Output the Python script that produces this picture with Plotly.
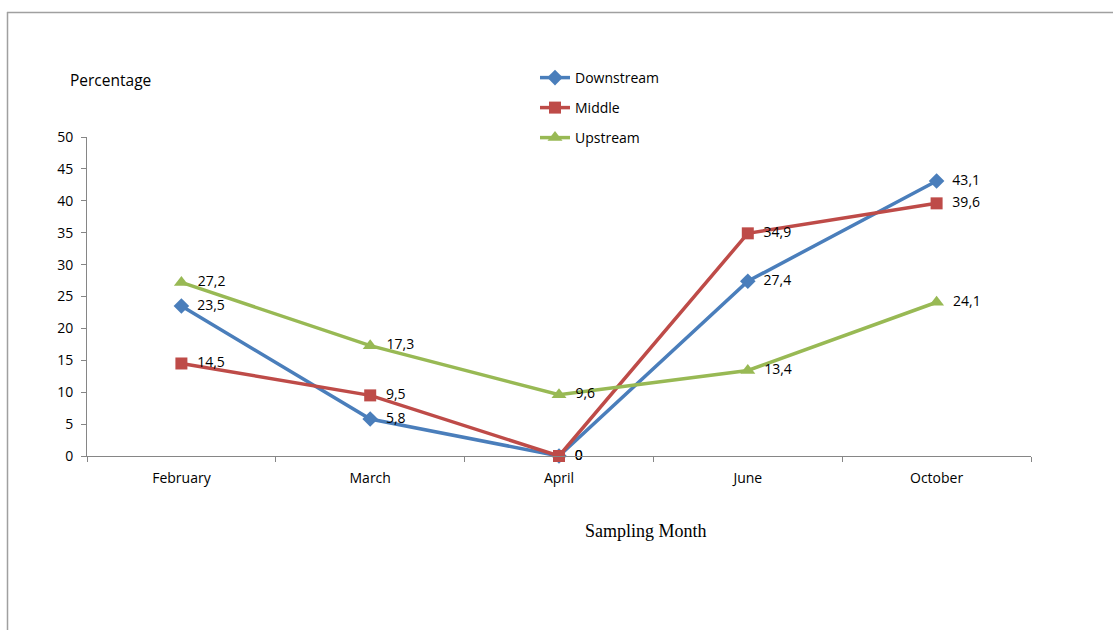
import plotly.graph_objects as go

months = ["February", "March", "April", "June", "October"]
downstream = [23.5, 5.8, 0, 27.4, 43.1]
middle = [14.5, 9.5, 0, 34.9, 39.6]
upstream = [27.2, 17.3, 9.6, 13.4, 24.1]
y_ticks = [0, 5, 10, 15, 20, 25, 30, 35, 40, 45, 50]

FONT = "Open Sans"
W, H = 1113, 630
L, R, T, B = 87, 82, 137, 174
PW, PH = W - L - R, H - T - B


def px(x):
    return (x - L) / PW


def py(y):
    return (H - B - y) / PH


def lab(vals):
    return ["  " + (f"{v:g}".replace(".", ",")) for v in vals]


fig = go.Figure()
series = [
    ("Downstream", downstream, "#4A7EBB", "diamond", 12, "legend"),
    ("Middle", middle, "#BE4B48", "square", 12, "legend2"),
    ("Upstream", upstream, "#98B954", "triangle-up", 13, "legend3"),
]
for name, vals, col, sym, sz, lg in series:
    fig.add_trace(go.Scatter(
        x=months, y=vals, name=name, mode="lines+markers+text",
        line=dict(color=col, width=3.5),
        marker=dict(symbol=sym, size=sz, color=col),
        text=lab(vals), textposition="middle right",
        textfont=dict(family=FONT, size=14, color="#000000"),
        legend=lg, cliponaxis=False,
    ))

legend_common = dict(
    font=dict(family=FONT, size=14, color="#000000"),
    bgcolor="rgba(0,0,0,0)", xanchor="left", yanchor="middle",
)
fig.update_layout(
    width=W, height=H,
    margin=dict(l=L, r=R, t=T, b=B),
    paper_bgcolor="white", plot_bgcolor="white",
    showlegend=True,
    legend=dict(x=px(535), y=py(78), **legend_common),
    legend2=dict(x=px(535), y=py(108), **legend_common),
    legend3=dict(x=px(535), y=py(138), **legend_common),
    xaxis=dict(
        type="category", range=[-0.5, 4.5], showgrid=False,
        showline=True, linecolor="#868686", linewidth=1,
        ticks="outside", tickson="boundaries", ticklen=5, tickcolor="#868686",
        tickfont=dict(family=FONT, size=14, color="#000000"),
        ticklabelstandoff=9,
        zeroline=False, fixedrange=True,
    ),
    yaxis=dict(
        range=[0, 50], tickvals=y_ticks, showgrid=False,
        showline=True, linecolor="#868686", linewidth=1,
        ticks="outside", ticklen=5, tickcolor="#868686",
        tickfont=dict(family=FONT, size=14, color="#000000"),
        ticklabelstandoff=5,
        zeroline=False, fixedrange=True,
    ),
    annotations=[
        dict(text="Percentage", xref="paper", yref="paper", x=px(68), y=py(80),
             xanchor="left", yanchor="middle", showarrow=False,
             font=dict(family=FONT, size=15.5, color="#000000")),
        dict(text="Sampling Month", xref="paper", yref="paper", x=px(646), y=py(531),
             xanchor="center", yanchor="middle", showarrow=False,
             font=dict(family="Liberation Serif", size=18, color="#000000")),
    ],
    shapes=[
        dict(type="line", xref="paper", yref="paper", x0=px(7), x1=px(1113),
             y0=py(12.5), y1=py(12.5), line=dict(color="#A0A0A0", width=1.5)),
        dict(type="line", xref="paper", yref="paper", x0=px(7.5), x1=px(7.5),
             y0=py(12), y1=py(631), line=dict(color="#A0A0A0", width=1.5)),
    ],
)

fig.write_html("out.html")
